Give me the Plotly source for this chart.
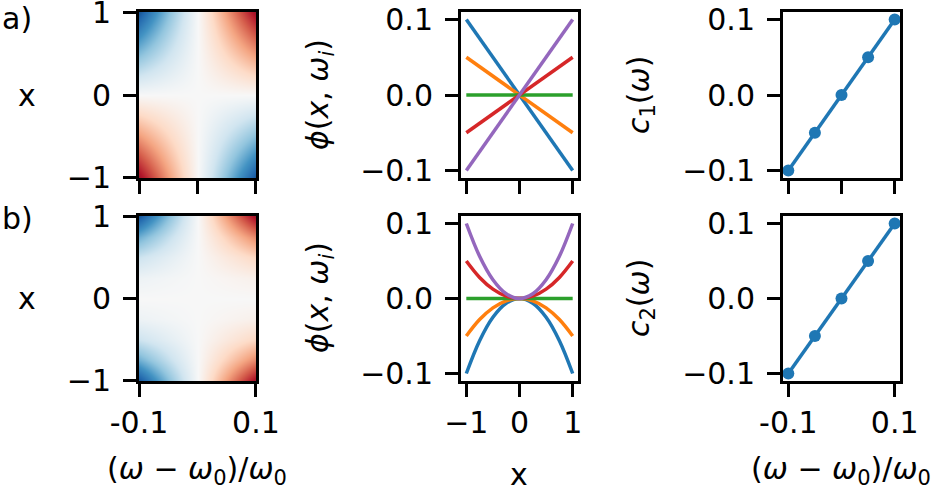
import plotly.graph_objs as go

# frequency offsets (omega - omega0)/omega0
omega = [-0.1, -0.05, 0.0, 0.05, 0.1]
colors1 = ['#1f77b4', '#ff7f0e', '#2ca02c', '#d62728', '#9467bd']

# heatmap rows (x) for panel a) and b)
x_rows_a = [-1.0, -0.5, 0.0, 0.5, 1.0]
z_a = [
    [0.1, 0.05, 0.0, -0.05, -0.1],
    [0.05, 0.025, 0.0, -0.025, -0.05],
    [0.0, 0.0, 0.0, 0.0, 0.0],
    [-0.05, -0.025, 0.0, 0.025, 0.05],
    [-0.1, -0.05, 0.0, 0.05, 0.1],
]
x_rows_b = [-1.0, -0.75, -0.5, -0.25, 0.0, 0.25, 0.5, 0.75, 1.0]
z_b = [
    [-0.1, -0.05, 0.0, 0.05, 0.1],
    [-0.0563, -0.0281, 0.0, 0.0281, 0.0563],
    [-0.025, -0.0125, 0.0, 0.0125, 0.025],
    [-0.0063, -0.0031, 0.0, 0.0031, 0.0063],
    [0.0, 0.0, 0.0, 0.0, 0.0],
    [-0.0063, -0.0031, 0.0, 0.0031, 0.0063],
    [-0.025, -0.0125, 0.0, 0.0125, 0.025],
    [-0.0563, -0.0281, 0.0, 0.0281, 0.0563],
    [-0.1, -0.05, 0.0, 0.05, 0.1],
]

# mode shapes phi(x, omega_i)
x_lin = [-1.0, 0.0, 1.0]
phi_lin = [
    [0.1, 0.0, -0.1],
    [0.05, 0.0, -0.05],
    [0.0, 0.0, 0.0],
    [-0.05, 0.0, 0.05],
    [-0.1, 0.0, 0.1],
]
x_quad = [-1.0, -0.75, -0.5, -0.25, 0.0, 0.25, 0.5, 0.75, 1.0]
phi_quad = [
    [-0.1, -0.0563, -0.025, -0.0063, 0.0, -0.0063, -0.025, -0.0563, -0.1],
    [-0.05, -0.0281, -0.0125, -0.0031, 0.0, -0.0031, -0.0125, -0.0281, -0.05],
    [0.0, 0.0, 0.0, 0.0, 0.0, 0.0, 0.0, 0.0, 0.0],
    [0.05, 0.0281, 0.0125, 0.0031, 0.0, 0.0031, 0.0125, 0.0281, 0.05],
    [0.1, 0.0563, 0.025, 0.0063, 0.0, 0.0063, 0.025, 0.0563, 0.1],
]

# coefficients
c1 = [-0.1, -0.05, 0.0, 0.05, 0.1]
c2 = [-0.1, -0.05, 0.0, 0.05, 0.1]

rdbu_r = ['#053061', '#2166ac', '#4393c3', '#92c5de', '#d1e5f0', '#f7f7f7',
          '#fddbc7', '#f4a582', '#d6604d', '#b2182b', '#67001f']
cscale = [[i / 10, c] for i, c in enumerate(rdbu_r)]

FONT = 'DejaVu Sans'
FS = 30
W, H = 937, 495
EPS = 1e-4

fig = go.Figure()

fig.add_heatmap(x=omega, y=x_rows_a, z=z_a, colorscale=cscale, zmin=-0.115, zmax=0.115,
                zsmooth='best', showscale=False, xaxis='x', yaxis='y')
fig.add_heatmap(x=omega, y=x_rows_b, z=z_b, colorscale=cscale, zmin=-0.115, zmax=0.115,
                zsmooth='best', showscale=False, xaxis='x4', yaxis='y4')

for i in range(5):
    fig.add_scatter(x=x_lin, y=phi_lin[i], mode='lines', line=dict(color=colors1[i], width=3.5),
                    xaxis='x2', yaxis='y2', showlegend=False)
    fig.add_scatter(x=x_quad, y=phi_quad[i], mode='lines', line=dict(color=colors1[i], width=3.5, shape='spline'),
                    xaxis='x5', yaxis='y5', showlegend=False)

fig.add_scatter(x=omega, y=c1, mode='lines+markers', line=dict(color=colors1[0], width=3.5),
                marker=dict(size=12, color=colors1[0]), xaxis='x3', yaxis='y3', showlegend=False)
fig.add_scatter(x=omega, y=c2, mode='lines+markers', line=dict(color=colors1[0], width=3.5),
                marker=dict(size=12, color=colors1[0]), xaxis='x6', yaxis='y6', showlegend=False)

cols = [(139 / W, 256 / W), (461 / W, 578 / W), (783 / W, 900 / W)]
rows = [(1 - 178 / H, 1 - 12 / H), (1 - 381 / H, 1 - 216 / H)]

base = dict(showline=True, mirror=True, linecolor='black', linewidth=3, ticks='outside',
            ticklen=13, tickwidth=3, tickcolor='black', showgrid=False, zeroline=False,
            tickfont=dict(family=FONT, size=FS, color='black'), automargin=False, fixedrange=True,
            ticklabeloverflow='allow')

layout = {}
for r in range(2):
    for c in range(3):
        n = r * 3 + c + 1
        xa = dict(base, domain=list(cols[c]), anchor='y%d' % n if n > 1 else 'y')
        ya = dict(base, domain=list(rows[r]), anchor='x%d' % n if n > 1 else 'x',
                  ticklabelstandoff=6)
        if c == 0:
            xa.update(range=[-0.1 - EPS, 0.1 + EPS])
            ya.update(range=[-1 - EPS, 1 + EPS], tickvals=[-1, 0, 1], ticktext=['\u22121', '0', '1'])
            if r == 0:
                xa.update(tickvals=[-0.1, 0, 0.1], showticklabels=False)
            else:
                xa.update(tickvals=[-0.1, 0.1], ticktext=['-0.1', '0.1'])
        elif c == 1:
            xa.update(range=[-1.1, 1.1], tickvals=[-1, 0, 1], ticktext=['\u22121', '0', '1'],
                      showticklabels=(r == 1))
            ya.update(range=[-0.11, 0.11], tickvals=[-0.1, 0, 0.1], ticktext=['\u22120.1', '0.0', '0.1'])
        else:
            ya.update(range=[-0.11, 0.11], tickvals=[-0.1, 0, 0.1], ticktext=['\u22120.1', '0.0', '0.1'])
            if r == 0:
                xa.update(range=[-0.11, 0.11], tickvals=[-0.1, 0, 0.1], showticklabels=False)
            else:
                xa.update(range=[-0.11, 0.11], tickvals=[-0.1, 0.1], ticktext=['-0.1', '0.1'])
        key = '' if n == 1 else str(n)
        layout['xaxis' + key] = xa
        layout['yaxis' + key] = ya


def ann(text, px, py, angle=0, xanchor='center'):
    return dict(text=text, x=px / W, y=1 - py / H, xref='paper', yref='paper', showarrow=False,
                textangle=angle, xanchor=xanchor, yanchor='middle',
                font=dict(family=FONT, size=FS, color='black'))


omega_lbl = '(<i>ω</i> − <i>ω</i><sub>0</sub>)/<i>ω</i><sub>0</sub>'
phi_lbl = '<i>ϕ</i>(<i>x</i>, <i>ω<sub>i</sub></i>)'
annotations = [
    ann('a)', 0, 18, xanchor='left'),
    ann('b)', 0, 219, xanchor='left'),
    ann('x', 27, 95),
    ann('x', 27, 298),
    ann(phi_lbl, 319, 95, angle=-90),
    ann(phi_lbl, 319, 298, angle=-90),
    ann('<i>c</i><sub>1</sub>(<i>ω</i>)', 640, 95, angle=-90),
    ann('<i>c</i><sub>2</sub>(<i>ω</i>)', 640, 298, angle=-90),
    ann(omega_lbl, 197, 470),
    ann('x', 519, 474),
    ann(omega_lbl, 841, 470),
]

fig.update_layout(width=W, height=H, margin=dict(l=0, r=0, t=0, b=0),
                  plot_bgcolor='white', paper_bgcolor='white', showlegend=False,
                  annotations=annotations, **layout)

fig.write_html("out.html", config={'displayModeBar': False},
               post_script="document.body.style.margin='0px';")
